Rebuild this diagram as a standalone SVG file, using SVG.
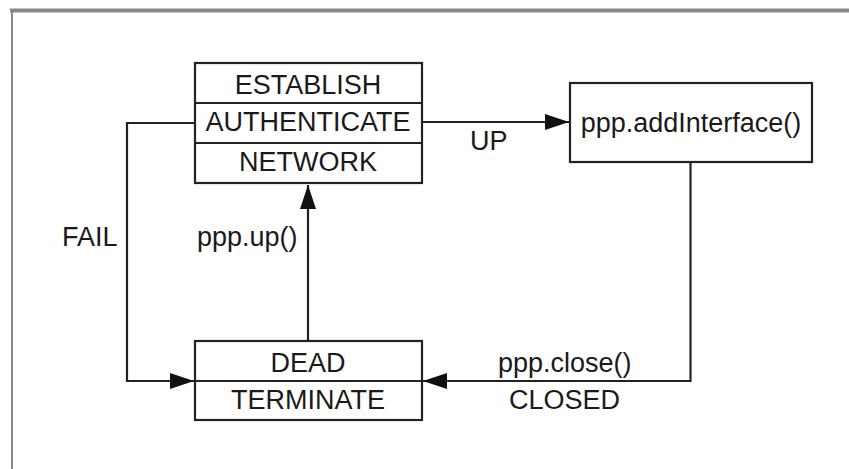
<svg xmlns="http://www.w3.org/2000/svg" width="849" height="469" viewBox="0 0 849 469">
<style>
text{font-family:"Liberation Sans",Arial,sans-serif;font-size:27px;fill:#1a1a1a}
.c{text-anchor:middle}
.box{fill:#fff;stroke:#222;stroke-width:2.2}
.ln{fill:none;stroke:#222;stroke-width:2.2}
</style>
<defs>
<marker id="ah" markerUnits="userSpaceOnUse" markerWidth="26" markerHeight="16" refX="24" refY="8" orient="auto">
<path d="M0,0 L24,8 L0,16 Z" fill="#111"/>
</marker>
</defs>
<rect x="0" y="0" width="849" height="469" fill="#fff"/>
<line x1="10" y1="10.5" x2="849" y2="10.5" stroke="#888" stroke-width="4"/>
<line x1="12" y1="9" x2="12" y2="469" stroke="#888" stroke-width="2"/>
<g id="connectors">
<path class="ln" d="M195,123 H127 V381 H194" marker-end="url(#ah)"/>
<path class="ln" d="M422,122 H569" marker-end="url(#ah)"/>
<path class="ln" d="M308,341 V185" marker-end="url(#ah)"/>
<path class="ln" d="M690.5,162 V381 H423" marker-end="url(#ah)"/>
<text x="62" y="246">FAIL</text>
<text x="470" y="150">UP</text>
<text x="197" y="246">ppp.up()</text>
<text x="498" y="372">ppp.close()</text>
<text x="509" y="409">CLOSED</text>
</g>
<g id="states-top">
<rect class="box" x="195" y="63" width="227" height="120"/>
<line class="ln" x1="195" y1="103" x2="422" y2="103"/>
<line class="ln" x1="195" y1="143" x2="422" y2="143"/>
<text class="c" x="308" y="94">ESTABLISH</text>
<text class="c" x="308" y="131">AUTHENTICATE</text>
<text class="c" x="308" y="171">NETWORK</text>
</g>
<g id="add-interface">
<rect class="box" x="570" y="83" width="242" height="79"/>
<text class="c" x="691" y="132">ppp.addInterface()</text>
</g>
<g id="states-bottom">
<rect class="box" x="195" y="341" width="227" height="79"/>
<line class="ln" x1="195" y1="381" x2="422" y2="381"/>
<text class="c" x="308" y="372">DEAD</text>
<text class="c" x="308" y="409">TERMINATE</text>
</g>
</svg>
